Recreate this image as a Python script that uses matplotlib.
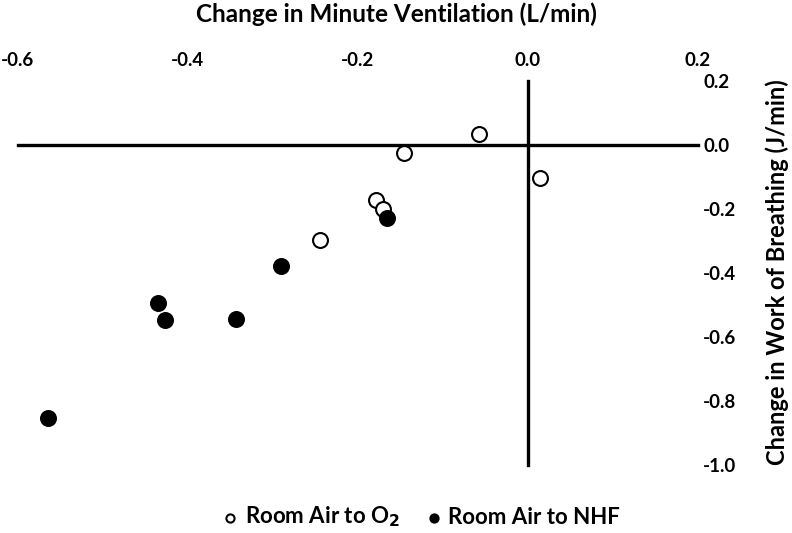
import matplotlib
matplotlib.use("Agg")
import matplotlib.pyplot as plt

# change in minute ventilation (L/min) vs change in work of breathing (J/min)
o2_ve = [-0.057, -0.146, 0.014, -0.178, -0.170, -0.244]
o2_wob = [0.033, -0.026, -0.104, -0.172, -0.201, -0.297]

nhf_ve = [-0.165, -0.290, -0.435, -0.427, -0.343, -0.564]
nhf_wob = [-0.227, -0.378, -0.495, -0.547, -0.544, -0.853]

x_ticks = [-0.6, -0.4, -0.2, 0.0, 0.2]
y_ticks = [0.2, 0.0, -0.2, -0.4, -0.6, -0.8, -1.0]

plt.rcParams['font.family'] = ['Lato', 'DejaVu Sans']
plt.rcParams['font.weight'] = 'bold'

fig = plt.figure(figsize=(7.92, 5.33), dpi=100)
ax = fig.add_axes([0.0224, 0.1276, 0.8585, 0.7204])

ax.scatter(o2_ve, o2_wob, s=115, facecolor='white', edgecolor='black',
           linewidth=1.5, zorder=3, label='Room Air to O$_2$')
ax.scatter(nhf_ve, nhf_wob, s=115, facecolor='black', edgecolor='black',
           linewidth=1.5, zorder=3, label='Room Air to NHF')

ax.set_xlim(-0.6, 0.2)
ax.set_ylim(-1.0, 0.2)

# axes cross at zero
ax.spines['left'].set_position(('data', 0))
ax.spines['bottom'].set_position(('data', 0))
ax.spines['top'].set_visible(False)
ax.spines['right'].set_visible(False)
for s in ('left', 'bottom'):
    ax.spines[s].set_linewidth(2.4)
    ax.spines[s].set_zorder(2)

ax.set_xticks(x_ticks)
ax.set_xticklabels(['%.1f' % v for v in x_ticks])
ax.set_yticks(y_ticks)
ax.set_yticklabels(['%.1f' % v for v in y_ticks])
ax.tick_params(axis='x', length=0, top=False, bottom=False,
               labeltop=True, labelbottom=False, labelsize=13.5, pad=9)
ax.tick_params(axis='y', length=0, left=False, right=False,
               labelright=True, labelleft=False, labelsize=13.5, pad=4)

fig.text(0.5, 0.974, 'Change in Minute Ventilation (L/min)', fontsize=17.5,
         fontweight='bold', ha='center', va='center')
fig.text(0.981, 0.49, 'Change in Work of Breathing (J/min)', fontsize=17,
         fontweight='bold', ha='center', va='center', rotation=90)

fig.legend(loc='center', bbox_to_anchor=(0.532, 0.03), ncol=2,
           frameon=False, fontsize=16, markerscale=0.55, handlelength=0.7,
           handletextpad=0.3, columnspacing=1.2)

fig.savefig('out.png', dpi=100)
